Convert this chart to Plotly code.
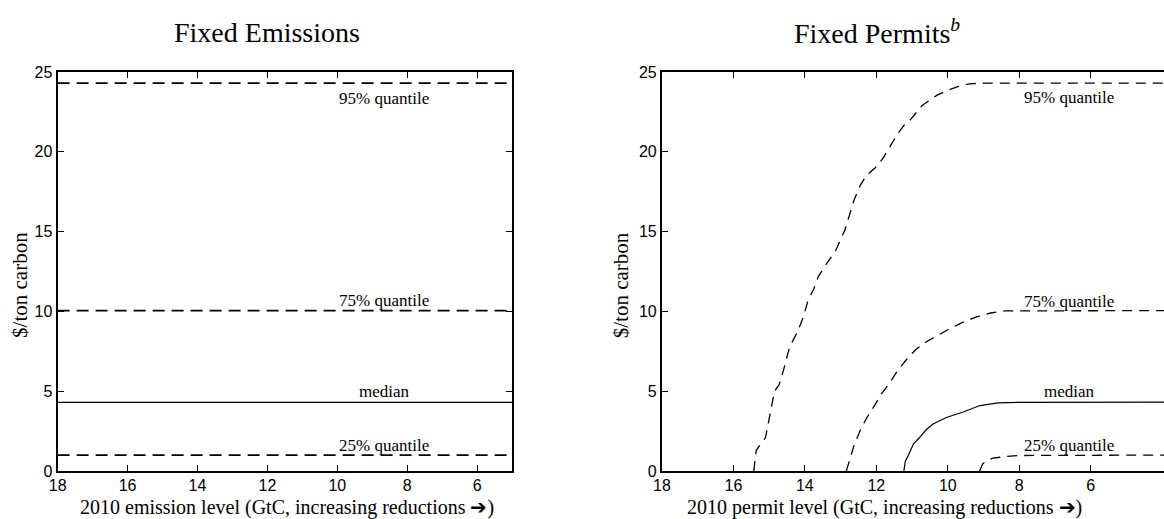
import plotly.graph_objects as go

# ---------------- data ----------------
# Fixed Emissions (left): horizontal quantile levels over emission levels
emis_x = [18.0, 5.0]
emis_q95 = [24.3, 24.3]
emis_q75 = [10.05, 10.05]
emis_med = [4.3, 4.3]
emis_q25 = [1.0, 1.0]

# Fixed Permits (right): quantile curves vs permit level
perm_q95_x = [15.43, 15.36, 15.1, 14.94, 14.85, 14.72, 14.6, 14.43, 14.21, 14.05, 13.91,
              13.75, 13.62, 13.45, 13.14, 12.88, 12.62, 12.45, 12.28, 12.03, 11.81, 11.6,
              11.38, 11.18, 11.05, 10.72, 10.3, 10.0, 9.7, 9.4, 9.1, 3.9]
perm_q95_y = [0.0, 1.3, 2.1, 4.0, 5.0, 5.4, 6.3, 7.75, 8.7, 9.6, 10.7,
              11.4, 12.2, 12.8, 13.8, 15.1, 17.0, 17.9, 18.5, 19.0, 19.6, 20.4,
              21.2, 21.8, 22.0, 22.9, 23.55, 23.85, 24.1, 24.25, 24.3, 24.3]
perm_q75_x = [12.84, 12.75, 12.61, 12.43, 12.25, 12.05, 11.85, 11.64, 11.4, 11.15, 10.9,
              10.6, 10.3, 10.0, 9.6, 9.2, 8.8, 8.4, 3.9]
perm_q75_y = [0.0, 0.67, 1.7, 2.65, 3.4, 4.1, 4.85, 5.48, 6.3, 7.0, 7.6,
              8.1, 8.5, 8.85, 9.3, 9.65, 9.9, 10.03, 10.05]
perm_med_x = [11.23, 11.19, 11.1, 10.96, 10.81, 10.6, 10.4, 10.04, 9.57, 9.1, 8.6, 8.0, 3.9]
perm_med_y = [0.0, 0.6, 1.0, 1.7, 2.05, 2.6, 2.96, 3.35, 3.7, 4.1, 4.27, 4.3, 4.32]
perm_q25_x = [9.11, 9.02, 8.9, 8.75, 8.4, 8.0, 3.9]
perm_q25_y = [0.0, 0.46, 0.65, 0.8, 0.9, 0.97, 1.0]

x_ticks = [18, 16, 14, 12, 10, 8, 6]
y_ticks = [0, 5, 10, 15, 20, 25]
label_names = ["95% quantile", "75% quantile", "median", "25% quantile"]

SERIF = "Liberation Serif, Times New Roman, serif"
SANS = "Liberation Sans, Arial, sans-serif"

W, H = 1164, 519
PT, PB = 72, 471          # plot area top / bottom in pixels


def py(ypx):
    """pixel row -> paper y (paper spans the plot area vertically)"""
    return (PB - ypx) / (PB - PT)


fig = go.Figure()

left_dash = dict(color="black", width=1.8, dash="12px,7px")
for y in [emis_q95, emis_q75, emis_q25]:
    fig.add_trace(go.Scatter(x=emis_x, y=y, mode="lines", line=left_dash,
                             xaxis="x", yaxis="y", showlegend=False, hoverinfo="skip"))
fig.add_trace(go.Scatter(x=emis_x, y=emis_med, mode="lines",
                         line=dict(color="black", width=1.2),
                         xaxis="x", yaxis="y", showlegend=False, hoverinfo="skip"))

right_dash = dict(color="black", width=1.3, dash="10px,7px")
for xs, ys in [(perm_q95_x, perm_q95_y), (perm_q75_x, perm_q75_y), (perm_q25_x, perm_q25_y)]:
    fig.add_trace(go.Scatter(x=xs, y=ys, mode="lines", line=right_dash,
                             xaxis="x2", yaxis="y2", showlegend=False, hoverinfo="skip"))
fig.add_trace(go.Scatter(x=perm_med_x, y=perm_med_y, mode="lines",
                         line=dict(color="black", width=1.2),
                         xaxis="x2", yaxis="y2", showlegend=False, hoverinfo="skip"))

axis_common = dict(showgrid=False, zeroline=False, showline=True, linecolor="black",
                   linewidth=2, ticks="inside", ticklen=6, tickwidth=1, tickcolor="black",
                   tickfont=dict(family=SANS, size=16, color="black"))

fig.update_layout(
    width=W, height=H,
    margin=dict(l=0, r=0, t=PT, b=H - PB),
    paper_bgcolor="white", plot_bgcolor="white",
    xaxis=dict(domain=[49 / W, 507 / W], range=[18, 5], tickvals=x_ticks, mirror="ticks",
               anchor="y", ticklabelstandoff=-1, **axis_common),
    yaxis=dict(domain=[0, 1], range=[0, 25], tickvals=y_ticks, mirror="ticks",
               anchor="x", **axis_common),
    xaxis2=dict(domain=[658 / W, 1.0], range=[18, 3.95], tickvals=x_ticks, mirror="ticks",
                anchor="y2", ticklabelstandoff=-1, **axis_common),
    yaxis2=dict(domain=[0, 1], range=[0, 25], tickvals=y_ticks, mirror=False,
                anchor="x2", **axis_common),
)

ann = []
# titles
ann.append(dict(text="Fixed Emissions", x=260 / W, y=py(33), xref="paper", yref="paper",
                showarrow=False, font=dict(family=SERIF, size=28, color="black"),
                xanchor="center", yanchor="middle"))
ann.append(dict(text="Fixed Permits<sup><i>b</i></sup>", x=875 / W, y=py(31),
                xref="paper", yref="paper", showarrow=False,
                font=dict(family=SERIF, size=28, color="black"),
                xanchor="center", yanchor="middle"))
# axis titles
ann.append(dict(text="2010 emission level (GtC, increasing reductions ➔)", x=280 / W,
                y=py(507), xref="paper", yref="paper", showarrow=False,
                font=dict(family=SERIF, size=20, color="black"),
                xanchor="center", yanchor="middle"))
ann.append(dict(text="2010 permit level (GtC, increasing reductions ➔)", x=882 / W,
                y=py(507), xref="paper", yref="paper", showarrow=False,
                font=dict(family=SERIF, size=20, color="black"),
                xanchor="center", yanchor="middle"))
for xp in [11, 617]:
    ann.append(dict(text="$/ton carbon", x=xp / W, y=py(285), xref="paper", yref="paper",
                    showarrow=False, textangle=-90,
                    font=dict(family=SERIF, size=21, color="black"),
                    xanchor="center", yanchor="middle"))

# line labels
left_levels = [emis_q95[0], emis_q75[0], emis_med[0], emis_q25[0]]
left_shifts = [-15, 10, 11, 10]
for name, lv, sh in zip(label_names, left_levels, left_shifts):
    ann.append(dict(text=name, x=8.65, y=lv, xref="x", yref="y", showarrow=False,
                    yshift=sh, font=dict(family=SERIF, size=17, color="black"),
                    xanchor="center", yanchor="middle"))
right_levels = [perm_q95_y[-1], perm_q75_y[-1], perm_med_y[-1], perm_q25_y[-1]]
right_shifts = [-14, 9, 11, 10]
for name, lv, sh in zip(label_names, right_levels, right_shifts):
    ann.append(dict(text=name, x=6.6, y=lv, xref="x2", yref="y2", showarrow=False,
                    yshift=sh, font=dict(family=SERIF, size=17, color="black"),
                    xanchor="center", yanchor="middle"))

fig.update_layout(annotations=ann)
fig.write_html("out.html", config={"displayModeBar": False},
               post_script="document.body.style.margin='0';")
